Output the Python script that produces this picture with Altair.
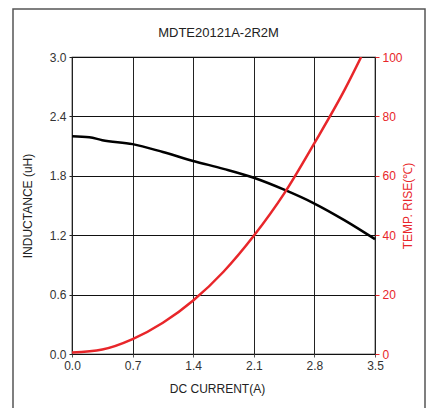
import altair as alt
import pandas as pd

# Inductance curve (black, left axis)
current_l = [0.0, 0.2, 0.35, 0.7, 1.05, 1.4, 1.75, 2.1, 2.45, 2.8, 3.15, 3.5]
inductance = [2.2, 2.19, 2.16, 2.12, 2.04, 1.95, 1.87, 1.78, 1.66, 1.52, 1.35, 1.16]

# Temperature rise curve (red, right axis)
current_t = [0.0, 0.35, 0.7, 1.05, 1.4, 1.75, 2.1, 2.45, 2.8, 3.15, 3.34]
temp_rise = [0.5, 1.5, 5.0, 10.5, 18.0, 27.7, 39.8, 54.0, 71.0, 89.0, 100.0]

x_ticks = [0.0, 0.7, 1.4, 2.1, 2.8, 3.5]
y_ticks = [0.0, 0.6, 1.2, 1.8, 2.4, 3.0]
t_ticks = [0, 20, 40, 60, 80, 100]

chart_title = "MDTE20121A-2R2M"

df_l = pd.DataFrame({"I": current_l, "L": inductance})
df_t = pd.DataFrame({"I": current_t, "T": temp_rise})

FONT = "Liberation Sans"
RED = "#e8262a"

x_enc = alt.X(
    "I:Q",
    scale=alt.Scale(domain=[0, 3.5], nice=False, zero=False),
    axis=alt.Axis(
        values=x_ticks, format=".1f", title="DC CURRENT(A)",
        grid=True, gridColor="#222", gridWidth=1,
        domain=False, ticks=True, tickSize=3, tickColor="#555",
        labelColor="#333", labelFontSize=12, labelFont=FONT, labelPadding=3,
        labelFlush=False,
        titleColor="#222", titleFontSize=12, titleFont=FONT,
        titleFontWeight="normal", titlePadding=12, titleX=145,
    ),
)

ind = alt.Chart(df_l).mark_line(color="black", strokeWidth=2.5, interpolate="monotone").encode(
    x=x_enc,
    y=alt.Y(
        "L:Q",
        scale=alt.Scale(domain=[0, 3.0], nice=False),
        axis=alt.Axis(
            values=y_ticks, format=".1f", title="INDUCTANCE (uH)",
            grid=True, gridColor="#111", gridWidth=1,
            domain=False, ticks=True, tickSize=3, tickColor="#222",
            labelColor="#333", labelFontSize=12, labelFont=FONT, labelPadding=3,
            labelFlush=False,
            titleColor="#222", titleFontSize=12, titleFont=FONT,
            titleFontWeight="normal", titlePadding=15,
        ),
    ),
)

temp = alt.Chart(df_t).mark_line(color=RED, strokeWidth=2.5, interpolate="monotone", clip=True).encode(
    x=alt.X("I:Q", scale=alt.Scale(domain=[0, 3.5], nice=False, zero=False)),
    y=alt.Y(
        "T:Q",
        scale=alt.Scale(domain=[0, 100], nice=False),
        axis=alt.Axis(
            orient="right", values=t_ticks, title="TEMP. RISE(℃)",
            grid=False, domain=False, ticks=True, tickSize=4, tickColor=RED,
            labelColor=RED, labelFontSize=12, labelFont=FONT, labelPadding=3,
            labelFlush=False,
            titleColor=RED, titleFontSize=12, titleFont=FONT,
            titleFontWeight="normal", titlePadding=12, titleAngle=270,
        ),
    ),
)

frame = alt.Chart(pd.DataFrame({"k": [0]})).mark_rect(
    fill=None, stroke="#555", strokeWidth=1.5
).encode(
    x=alt.value(-59), x2=alt.value(353), y=alt.value(-48), y2=alt.value(370)
)

title_text = alt.Chart(pd.DataFrame({"t": [chart_title]})).mark_text(
    font=FONT, fontSize=13, color="#222", align="center", baseline="alphabetic"
).encode(
    x=alt.value(146.5), y=alt.value(-20.3), text="t:N"
)

chart = alt.layer(frame, title_text, ind, temp).resolve_scale(y="independent").properties(
    width=303,
    height=297,
    autosize="none",
    padding={"left": 64, "top": 49, "right": 51, "bottom": 54},
    background="white",
).configure_view(stroke="black", strokeWidth=1.2)

chart.save("out.html", embed_options={"renderer": "svg", "actions": False})
